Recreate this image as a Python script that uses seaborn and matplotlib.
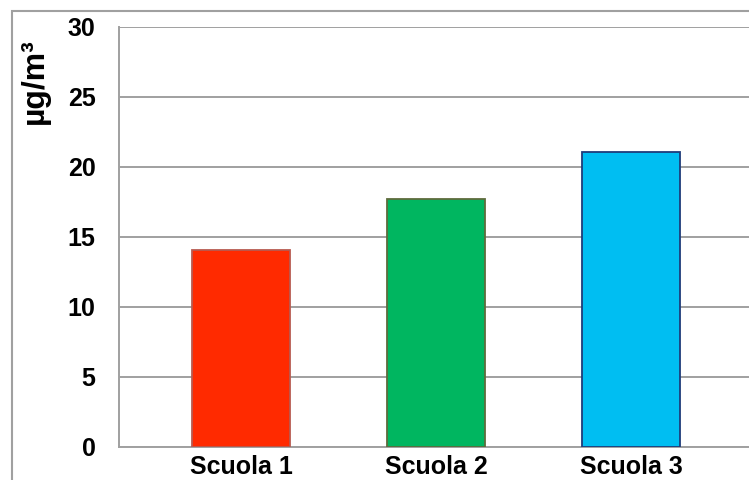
import matplotlib
matplotlib.use("Agg")
import matplotlib.pyplot as plt
import matplotlib.patches as mpatches
import seaborn as sns
import pandas as pd

# dati
scuole = ["Scuola 1", "Scuola 2", "Scuola 3"]
valori = [14.1, 17.7, 21.1]
colori = ["#FF2A00", "#00B660", "#00BEF2"]
bordi = ["#B85A50", "#5E6B3C", "#1F3C7A"]
yticks = [0, 5, 10, 15, 20, 25, 30]

sns.set_style("white")
plt.rcParams["font.family"] = ["Liberation Sans", "DejaVu Sans"]
plt.rcParams["font.weight"] = "bold"
plt.rcParams["text.color"] = "black"
plt.rcParams["xtick.color"] = "black"
plt.rcParams["ytick.color"] = "black"

df = pd.DataFrame({"scuola": scuole, "valore": valori})

W, H = 749, 480
fig = plt.figure(figsize=(W / 100, H / 100), dpi=100)
ax = fig.add_axes([119 / W, 33 / H, (770 - 119) / W, 420 / H])

sns.barplot(data=df, x="scuola", y="valore", hue="scuola", palette=colori,
            saturation=1, legend=False, width=0.5, ax=ax, zorder=3)
for p, c in zip(ax.patches, bordi):
    p.set_edgecolor(c)
    p.set_linewidth(1.3)

grigio = "#A0A0A0"
ax.set_ylim(0, 30)
ax.set_yticks(yticks)
ax.set_xlim(-0.626, (770 - 241) / 195)
ax.grid(axis="y", color=grigio, linewidth=1.4, zorder=0)
ax.set_axisbelow(True)
for s in ["top", "right"]:
    ax.spines[s].set_visible(False)
ax.spines["left"].set_color(grigio)
ax.spines["bottom"].set_color(grigio)
ax.spines["left"].set_linewidth(1.4)
ax.spines["bottom"].set_linewidth(1.4)
ax.tick_params(axis="y", direction="out", length=6, width=1.4, color=grigio,
               labelcolor="black", labelsize=18, pad=11)
ax.tick_params(axis="x", length=0, labelcolor="black", labelsize=18, pad=6)
for t in ax.get_xticklabels() + ax.get_yticklabels():
    t.set_fontweight("bold")
ax.set_xlabel("")
ax.set_ylabel("")

fig.text(35 / W, 1 - 81 / H, "µg/m³", rotation=90, fontsize=23,
         fontweight="bold", ha="center", va="center", color="black")

# cornice
fig.patches.append(mpatches.Rectangle((12 / W, -0.2), 2, 1.2 - 11 / H,
                                      transform=fig.transFigure, fill=False,
                                      edgecolor=grigio, linewidth=1.5))

fig.savefig("out.png", dpi=100)
